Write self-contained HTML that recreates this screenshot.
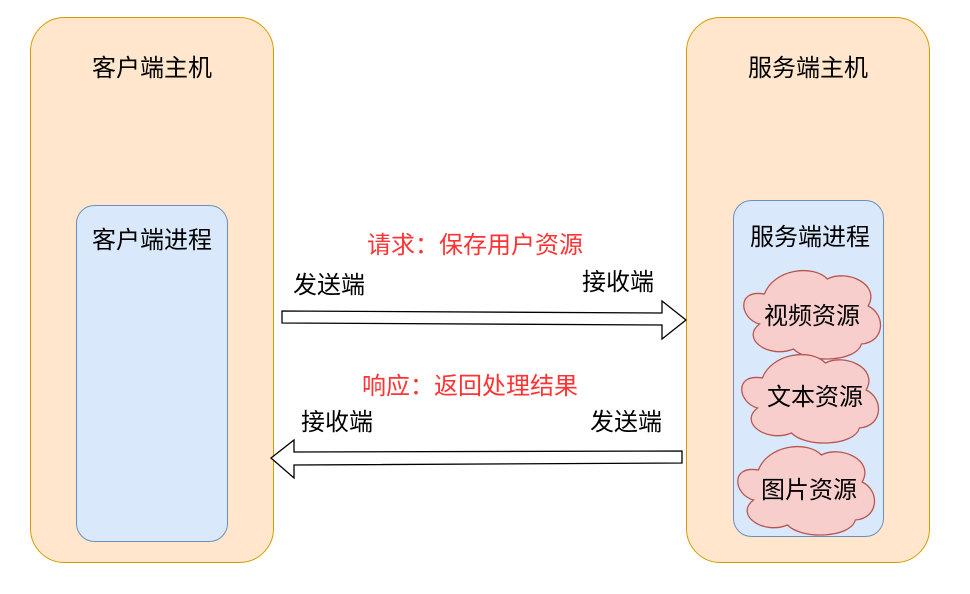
<!DOCTYPE html>
<html><head><meta charset="utf-8"><style>
body{margin:0;background:#fff}
text{font-family:"Liberation Sans","Noto Sans CJK SC",sans-serif;font-size:24px}
</style></head><body>
<svg width="970" height="589" xmlns="http://www.w3.org/2000/svg">
<defs>
<path id="cl" d="M-45,-20 C-75,-25 -70,5 -50,10 C-70,25 -40,45 -15,35 C0,50 50,48 55,30 C80,28 80,0 62,-8 C75,-30 40,-45 20,-35 C5,-50 -35,-45 -45,-20 Z" fill="#f8cecc" stroke="#b85450" stroke-width="1.3"/>
</defs>
<rect x="30.5" y="17.5" width="243" height="545" rx="34" fill="#ffe6cc" stroke="#d79b00"/>
<rect x="686.5" y="17.5" width="243" height="545" rx="34" fill="#ffe6cc" stroke="#d79b00"/>
<rect x="76.5" y="205.5" width="151" height="336" rx="18" fill="#dae8fc" stroke="#6c8ebf"/>
<rect x="733.5" y="200.5" width="150" height="336" rx="18" fill="#dae8fc" stroke="#6c8ebf"/>
<text x="152" y="76" text-anchor="middle">客户端主机</text>
<text x="808" y="76" text-anchor="middle">服务端主机</text>
<text x="152" y="248" text-anchor="middle">客户端进程</text>
<text x="810" y="245" text-anchor="middle">服务端进程</text>
<use href="#cl" transform="translate(808,314) scale(0.97,1.0)"/>
<use href="#cl" transform="translate(806,398) scale(0.97,1.0)"/>
<use href="#cl" transform="translate(802,490) scale(0.97,1.0)"/>
<text x="812" y="324" text-anchor="middle">视频资源</text>
<text x="815" y="405" text-anchor="middle">文本资源</text>
<text x="809" y="498" text-anchor="middle">图片资源</text>
<text x="475" y="253" text-anchor="middle" fill="#ff3333">请求：保存用户资源</text>
<text x="470" y="394" text-anchor="middle" fill="#ff3333">响应：返回处理结果</text>
<text x="329" y="293" text-anchor="middle">发送端</text>
<text x="618" y="290" text-anchor="middle">接收端</text>
<text x="337" y="430" text-anchor="middle">接收端</text>
<text x="626" y="430" text-anchor="middle">发送端</text>
<polygon points="282,311 662,313 662,301 686,320 662,339 662,325 282,323" fill="#fff" stroke="#000" stroke-width="1.3"/>
<polygon points="682,451 294,452 294,440 271,458 294,478 294,465 682,463" fill="#fff" stroke="#000" stroke-width="1.3"/>
</svg>
</body></html>
